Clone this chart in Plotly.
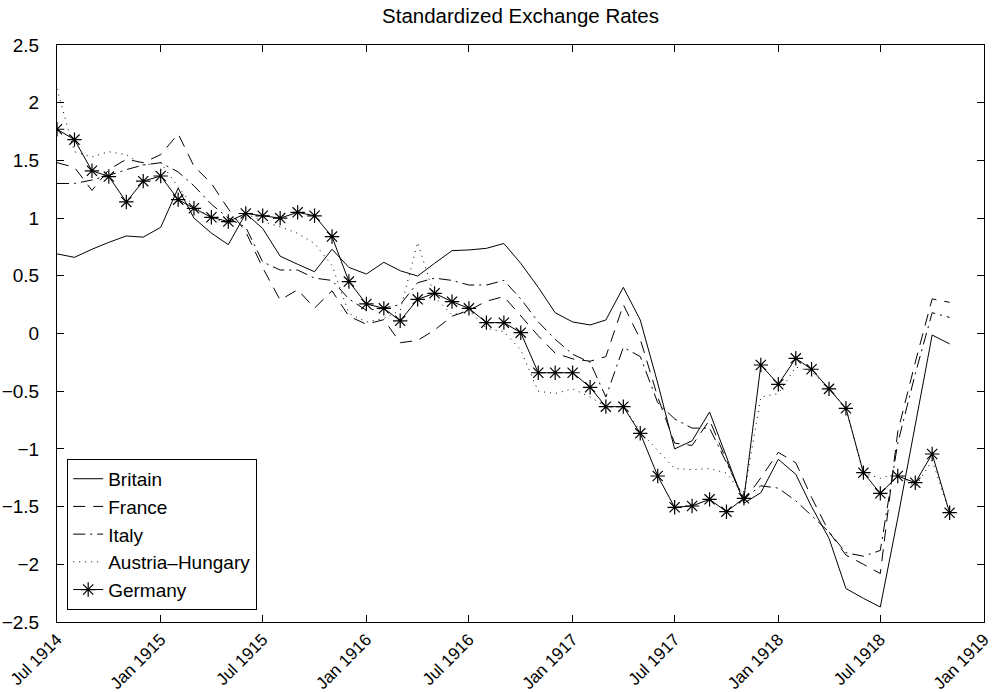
import pandas as pd
import plotly.graph_objects as go

dates = pd.date_range("1914-07-01", periods=53, freq="MS")

britain = [0.69, 0.66, 0.73, 0.79, 0.845, 0.835, 0.92, 1.26, 1.0, 0.87,
           0.77, 1.04, 0.91, 0.67, 0.60, 0.535, 0.73, 0.573, 0.515, 0.617,
           0.544, 0.498, 0.608, 0.718, 0.724, 0.738, 0.78, 0.608, 0.40, 0.18,
           0.10, 0.074, 0.117, 0.40, 0.117, -0.43, -1.00, -0.93, -0.68, -1.06,
           -1.47, -1.38, -1.09, -1.22, -1.5, -1.775, -2.21, -2.295, -2.37, -1.6,
           -0.8, -0.013, -0.09]

france = [1.48, 1.44, 1.24, 1.42, 1.51, 1.48, 1.55, 1.73, 1.45, 1.30,
          1.08, 0.88, 0.57, 0.29, 0.38, 0.22, 0.37, 0.15, 0.08, 0.12,
          -0.08, -0.06, 0.03, 0.15, 0.20, 0.28, 0.32, 0.15, -0.02, -0.17,
          -0.22, -0.24, -0.20, 0.25, -0.05, -0.55, -0.95, -0.97, -0.75, -1.1,
          -1.45, -1.25, -1.03, -1.12, -1.42, -1.72, -1.92, -2.0, -2.08, -0.85,
          -0.25, 0.30, 0.27]

italy = [1.30, 1.30, 1.33, 1.37, 1.42, 1.46, 1.48, 1.40, 1.28, 1.12,
         1.0, 0.92, 0.62, 0.55, 0.55, 0.48, 0.46, 0.30, 0.20, 0.22,
         0.25, 0.44, 0.48, 0.46, 0.42, 0.42, 0.46, 0.30, 0.10, -0.05,
         -0.18, -0.25, -0.55, -0.12, -0.20, -0.60, -0.74, -0.82, -0.82, -1.12,
         -1.43, -1.32, -1.34, -1.45, -1.58, -1.72, -1.90, -1.93, -1.88, -0.95,
         -0.35, 0.18, 0.14]

austria = [2.12, 1.575, 1.53, 1.575, 1.55, 1.46, 1.48, 1.27, 1.10, 1.0,
           0.957, 1.04, 0.97, 0.925, 0.868, 0.78, 0.59, 0.175, 0.10, 0.13,
           0.20, 0.79, 0.32, 0.16, 0.20, 0.045, 0.016, -0.143, -0.50, -0.52,
           -0.48, -0.55, -0.634, -0.634, -0.85, -1.01, -1.17, -1.18, -1.17, -1.21,
           -1.40, -0.55, -0.52, -0.29, -0.33, -0.475, -0.648, -1.21, -1.255, -1.21,
           -1.33, -1.10, -1.553]

germany = [1.77, 1.68, 1.41, 1.36, 1.14, 1.32, 1.365, 1.16, 1.085, 1.007,
           0.97, 1.04, 1.02, 1.00, 1.05, 1.02, 0.84, 0.45, 0.256, 0.218,
           0.11, 0.296, 0.348, 0.276, 0.218, 0.094, 0.094, 0.007, -0.34, -0.34,
           -0.34, -0.466, -0.634, -0.634, -0.865, -1.235, -1.506, -1.495, -1.437, -1.544,
           -1.428, -0.273, -0.44, -0.215, -0.31, -0.48, -0.648, -1.206, -1.385, -1.235,
           -1.293, -1.044, -1.553]

tick_dates = ["1914-07-01", "1915-01-01", "1915-07-01", "1916-01-01", "1916-07-01",
              "1917-01-01", "1917-07-01", "1918-01-01", "1918-07-01", "1919-01-01"]
tick_labels = ["Jul 1914", "Jan 1915", "Jul 1915", "Jan 1916", "Jul 1916",
               "Jan 1917", "Jul 1917", "Jan 1918", "Jul 1918", "Jan 1919"]

FONT = "Arial, Liberation Sans, Helvetica, sans-serif"

fig = go.Figure()
fig.add_trace(go.Scatter(x=dates, y=britain, mode="lines", name="Britain",
                         line=dict(color="black", width=1)))
fig.add_trace(go.Scatter(x=dates, y=france, mode="lines", name="France",
                         line=dict(color="black", width=1, dash="12px,8px")))
fig.add_trace(go.Scatter(x=dates, y=italy, mode="lines", name="Italy",
                         line=dict(color="black", width=1, dash="12px,5px,2px,5px")))
fig.add_trace(go.Scatter(x=dates, y=austria, mode="lines", name="Austria\u2013Hungary",
                         line=dict(color="black", width=1, dash="1px,5px")))
fig.add_trace(go.Scatter(x=dates, y=germany, mode="lines+markers", name="Germany",
                         line=dict(color="black", width=1),
                         marker=dict(symbol="asterisk-open", size=12, color="black",
                                     line=dict(color="black", width=1.2))))

fig.update_layout(
    width=995, height=692,
    margin=dict(l=57, r=11, t=45, b=70),
    paper_bgcolor="white", plot_bgcolor="white",
    font=dict(family=FONT, size=19, color="black"),
    title=dict(text="Standardized Exchange Rates", x=0.5, xref="paper",
               y=1 - 16 / 692, yref="container", yanchor="middle", xanchor="center",
               font=dict(family=FONT, size=20.5, color="black")),
    showlegend=True,
    legend=dict(x=0.011, y=0.021, xanchor="left", yanchor="bottom",
                bgcolor="white", bordercolor="black", borderwidth=1,
                font=dict(family=FONT, size=19, color="black"),
                tracegroupgap=0),
)

fig.update_xaxes(
    type="date", range=["1914-07-01", "1919-01-01"],
    tickmode="array", tickvals=tick_dates, ticktext=tick_labels,
    tickangle=-45, ticks="inside", ticklen=7, tickcolor="black",
    tickfont=dict(family=FONT, size=17, color="black"),
    ticklabeloverflow="allow",
    showline=True, linecolor="black", linewidth=1, mirror="ticks",
    showgrid=False, zeroline=False, automargin=False,
)
fig.update_yaxes(
    range=[-2.5, 2.5], dtick=0.5, tick0=0,
    ticks="inside", ticklen=7, tickcolor="black",
    showline=True, linecolor="black", linewidth=1, mirror="ticks",
    showgrid=False, zeroline=False, automargin=False, ticklabelstandoff=13,
)

fig.write_html("out.html",
               config={"displayModeBar": False},
               post_script="document.body.style.margin='0';document.body.style.overflow='hidden';")
